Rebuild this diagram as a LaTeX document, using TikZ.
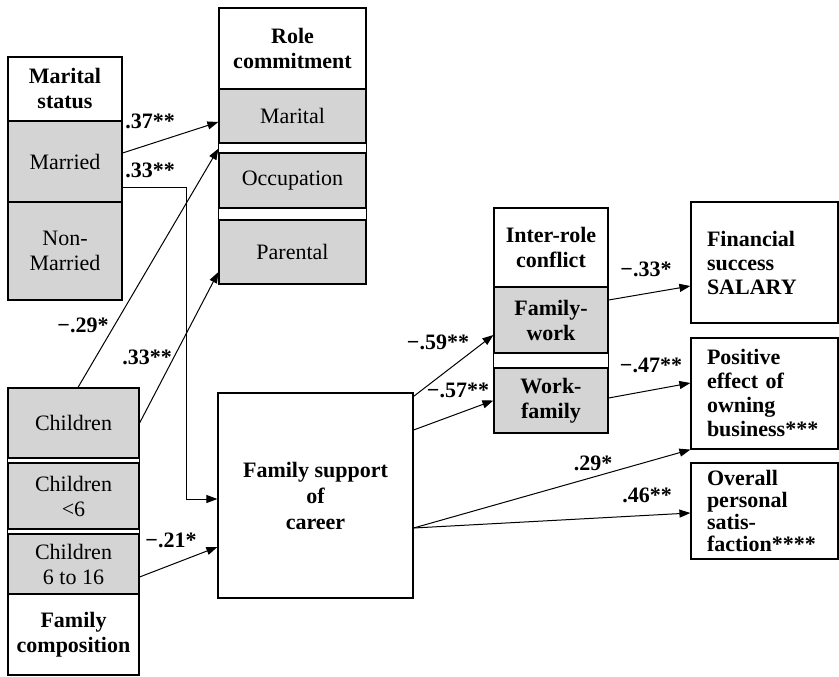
\documentclass[tikz,border=0pt]{standalone}
\usepackage{fontspec}
\setmainfont{Liberation Serif}
\usetikzlibrary{arrows.meta,fit}
\definecolor{cellgrey}{gray}{0.83}
\begin{document}
\begin{tikzpicture}[x=1pt,y=-1pt,
  every node/.style={font=\fontsize{22}{25}\selectfont, inner sep=0pt},
  cell/.style={draw, line width=1.2pt, fill=cellgrey, align=center},
  hdr/.style={draw, line width=1.2pt, fill=white, align=center, font=\fontsize{22}{25}\selectfont\bfseries},
  frame/.style={draw, line width=1.2pt, inner sep=0pt},
  outbox/.style={draw, line width=1.2pt, align=left, inner xsep=16pt, text width=115pt, minimum width=147pt, font=\fontsize{22}{24}\selectfont\bfseries},
  lbl/.style={font=\fontsize{22}{25}\selectfont\bfseries},
  arr/.style={line width=1pt, -{Triangle[length=11pt,width=8pt]}}]
\useasboundingbox (0,0) rectangle (839,677);

% marital status
\node[hdr, minimum width=114pt, minimum height=64pt] (mshdr) at (65,89) {Marital\\status};
\node[cell, minimum width=114pt, minimum height=81pt] (married) at (65,161.5) {Married};
\node[cell, minimum width=114pt, minimum height=98pt] (nonmarried) at (65,251) {Non-\\Married};

% role commitment
\node[hdr, minimum width=147pt, minimum height=81pt] (rchdr) at (292.5,48.5) {Role\\commitment};
\node[cell, minimum width=147pt, minimum height=54pt] (marital) at (292.5,116) {Marital};
\node[cell, minimum width=147pt, minimum height=55pt] (occupation) at (292.5,180.5) {Occupation};
\node[cell, minimum width=147pt, minimum height=64pt] (parental) at (292.5,252) {Parental};
\node[frame, fit=(rchdr)(parental)] (rolecommit) {};

% family composition
\node[cell, minimum width=131pt, minimum height=70pt] (children) at (73.5,423) {Children};
\node[cell, minimum width=131pt, minimum height=66pt] (childlt) at (73.5,496) {Children\\<6};
\node[cell, minimum width=131pt, minimum height=60pt] (child616) at (73.5,564) {Children\\6 to 16};
\node[hdr, minimum width=131pt, minimum height=81pt] (fchdr) at (73.5,634.5) {Family\\composition};
\node[frame, fit=(children)(fchdr)] (familycomp) {};

% family support
\node[hdr, minimum width=195pt, minimum height=205pt, font=\fontsize{22}{26}\selectfont\bfseries] (fsupport) at (315.5,495.5) {Family support\\of\\career};

% inter-role conflict
\node[hdr, minimum width=114pt, minimum height=79pt] (irhdr) at (551,247.5) {Inter-role\\conflict};
\node[cell, minimum width=114pt, minimum height=66pt, font=\fontsize{22}{25}\selectfont\bfseries] (famwork) at (551,320) {Family-\\work};
\node[cell, minimum width=114pt, minimum height=65pt, font=\fontsize{22}{25}\selectfont\bfseries] (workfam) at (551,400.5) {Work-\\family};
\node[frame, fit=(irhdr)(workfam)] (interrole) {};

% outcomes
\node[outbox, minimum height=121pt] (salary) at (764.5,262.5) {Financial\\success\\SALARY};
\node[outbox, minimum height=111pt] (positive) at (764.5,393.5) {Positive\\effect of\\owning\\business***};
\node[outbox, minimum height=96pt, font=\fontsize{22}{22}\selectfont\bfseries] (overall) at (764.5,511) {Overall\\personal\\satis-\\faction****};

% paths
\path[draw,arr] ([yshift=8.5pt]married.east) -- ([yshift=-6pt]marital.west);
\path[draw,arr] ([yshift=-25.5pt]married.east) -- ++(64,0) |- ([yshift=-3.5pt]fsupport.west);
\path[draw,arr] ([xshift=4.5pt]children.north) -- ([yshift=-5pt]marital.south west);
\path[draw,arr] (children.east) -- ([yshift=-20pt]parental.west);
\path[draw,arr] ([yshift=-13pt]child616.east) -- ([yshift=-51.5pt]fsupport.west);
\path[draw,arr] ([yshift=-4pt]fsupport.north east) -- ([yshift=-15pt]famwork.west);
\path[draw,arr] ([yshift=65.5pt]fsupport.east) -- (workfam.west);
\path[draw,arr] ([yshift=20pt]famwork.east) -- ([yshift=-23.5pt]salary.west);
\path[draw,arr] ([yshift=2.5pt]workfam.east) -- ([yshift=10.5pt]positive.west);
\path[draw,arr] ([yshift=-32.5pt]fsupport.east) -- (positive.south west);
\path[draw,arr] ([yshift=-32.5pt]fsupport.east) -- ([yshift=-2pt]overall.west);

% coefficients
\node[lbl] (c37) at (150,121) {.37**};
\node[lbl] (c33a) at (150,170) {.33**};
\node[lbl] (c29) at (83,325) {−.29*};
\node[lbl] (c33b) at (147,357) {.33**};
\node[lbl] (c21) at (171,540) {−.21*};
\node[lbl] (c59) at (438,342) {−.59**};
\node[lbl] (c57) at (458,390) {−.57**};
\node[lbl] (c33c) at (646,269) {−.33*};
\node[lbl] (c47) at (651,365) {−.47**};
\node[lbl] (c29b) at (593,463) {.29*};
\node[lbl] (c46) at (647,495) {.46**};
\end{tikzpicture}
\end{document}
